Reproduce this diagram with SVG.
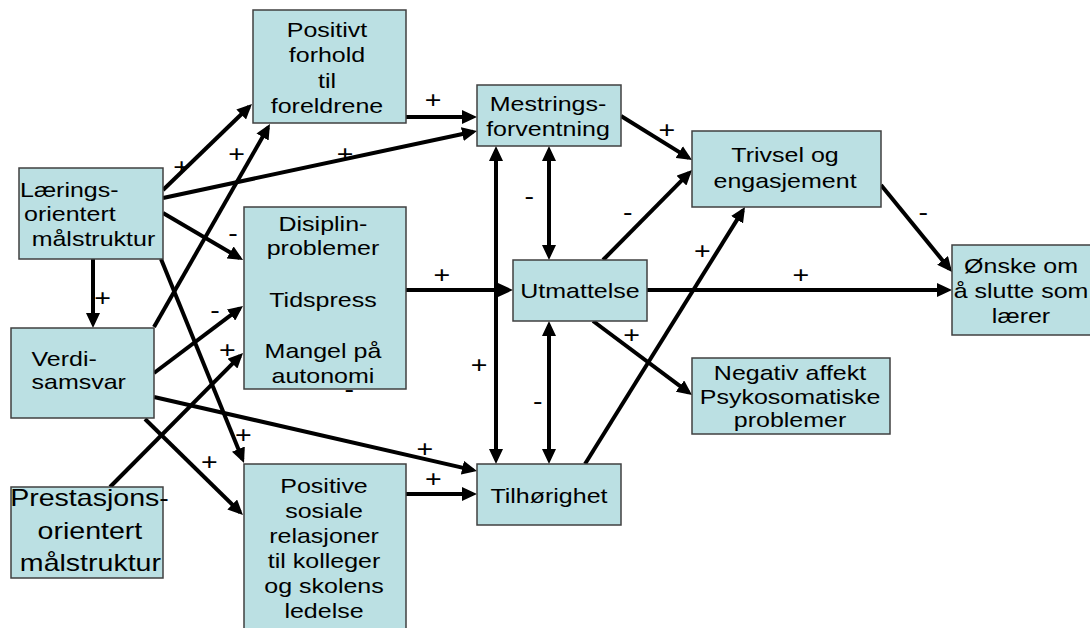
<svg xmlns="http://www.w3.org/2000/svg" width="1090" height="628" viewBox="0 0 1090 628">
<style>
.box{fill:#BBE0E3;stroke:#404040;stroke-width:1.5}
.t{font-family:"Liberation Sans",Arial,sans-serif;font-size:21px;fill:#000}
.m{text-anchor:middle}
.big{font-size:24px}
.lab{font-family:"Liberation Sans",Arial,sans-serif;font-size:24px;fill:#000;text-anchor:middle}
.c{stroke:#000;stroke-width:4;fill:none;marker-end:url(#ah)}
.d{stroke:#000;stroke-width:4;fill:none;marker-end:url(#ah);marker-start:url(#ah)}
</style>
<defs>
<marker id="ah" markerUnits="userSpaceOnUse" markerWidth="15" markerHeight="14" refX="11" refY="7" orient="auto-start-reverse">
<path d="M0,0 L15,7 L0,14 z" fill="#000"/>
</marker>
</defs>
<rect width="1090" height="628" fill="#fff"/>
<g id="connectors">
<line class="c" x1="163" y1="190" x2="249.1" y2="106.8"/>
<line class="c" x1="154" y1="327" x2="268" y2="127.5"/>
<line class="c" x1="163" y1="198" x2="473.1" y2="131.8"/>
<line class="c" x1="406" y1="117" x2="473" y2="117"/>
<line class="c" x1="163" y1="213" x2="239.6" y2="258"/>
<line class="c" x1="93" y1="259" x2="93" y2="324"/>
<line class="c" x1="161" y1="259" x2="242.5" y2="459.3"/>
<line class="c" x1="154" y1="373" x2="239.8" y2="308.4"/>
<line class="c" x1="110" y1="487" x2="240.2" y2="355.8"/>
<line class="c" x1="154" y1="397" x2="473.1" y2="470.1"/>
<line class="c" x1="145" y1="419" x2="240.1" y2="512.2"/>
<line class="c" x1="406" y1="494" x2="473" y2="494"/>
<line class="c" x1="406" y1="290" x2="509" y2="290"/>
<line class="d" x1="496" y1="150" x2="496" y2="460"/>
<line class="d" x1="549" y1="150" x2="549" y2="256"/>
<line class="d" x1="549" y1="325" x2="549" y2="460"/>
<line class="c" x1="621" y1="116" x2="688.6" y2="157.9"/>
<line class="c" x1="603" y1="260" x2="689.2" y2="172.8"/>
<line class="c" x1="585" y1="464" x2="742.9" y2="210.4"/>
<line class="c" x1="647" y1="290" x2="948" y2="290"/>
<line class="c" x1="881" y1="185" x2="949.5" y2="268.9"/>
<line class="c" x1="593" y1="321" x2="688.8" y2="392.6"/>
</g>
<g id="n-positivt">
<rect class="box" x="253" y="10" width="153" height="113"/>
<g class="t m" transform="scale(1.19 1)">
<text x="274.8" y="37">Positivt</text>
<text x="274.8" y="62.5">forhold</text>
<text x="274.8" y="88">til</text>
<text x="274.8" y="113">foreldrene</text>
</g>
</g>
<g id="n-laerings">
<rect class="box" x="19" y="168" width="144" height="91"/>
<g class="t" transform="scale(1.19 1)">
<text x="16.8" y="197">Lærings-</text>
<text x="20.2" y="221">orientert</text>
<text x="26.6" y="246">målstruktur</text>
</g>
</g>
<g id="n-disiplin">
<rect class="box" x="244" y="207" width="162" height="182"/>
<g class="t m" transform="scale(1.19 1)">
<text x="271.4" y="231">Disiplin-</text>
<text x="271.4" y="255">problemer</text>
<text x="271.4" y="307">Tidspress</text>
<text x="271.4" y="358">Mangel på</text>
<text x="271.4" y="383">autonomi</text>
</g>
</g>
<g id="n-verdi">
<rect class="box" x="11" y="328" width="143" height="90"/>
<g class="t" transform="scale(1.19 1)">
<text x="26.5" y="366">Verdi-</text>
<text x="26.5" y="389">samsvar</text>
</g>
</g>
<g id="n-prestasjons">
<rect class="box" x="11" y="487" width="152" height="91"/>
<g class="t m big" transform="scale(1.19 1)">
<text x="75.2" y="506">Prestasjons-</text>
<text x="75.6" y="539">orientert</text>
<text x="76" y="571">målstruktur</text>
</g>
</g>
<g id="n-positive-sosiale">
<rect class="box" x="244" y="464" width="162" height="180"/>
<g class="t m" transform="scale(1.19 1)">
<text x="272.3" y="493">Positive</text>
<text x="272.3" y="518">sosiale</text>
<text x="272.3" y="543">relasjoner</text>
<text x="272.3" y="568">til kolleger</text>
<text x="272.3" y="593">og skolens</text>
<text x="272.3" y="618">ledelse</text>
</g>
</g>
<g id="n-mestrings">
<rect class="box" x="477" y="85" width="144" height="61"/>
<g class="t m" transform="scale(1.19 1)">
<text x="460.5" y="111">Mestrings-</text>
<text x="460.5" y="136.5">forventning</text>
</g>
</g>
<g id="n-trivsel">
<rect class="box" x="692" y="131" width="189" height="76"/>
<g class="t m" transform="scale(1.19 1)">
<text x="659.7" y="162">Trivsel og</text>
<text x="659.7" y="188">engasjement</text>
</g>
</g>
<g id="n-utmattelse">
<rect class="box" x="513" y="260" width="134" height="61"/>
<g class="t m" transform="scale(1.19 1)">
<text x="487.4" y="298">Utmattelse</text>
</g>
</g>
<g id="n-negativ">
<rect class="box" x="692" y="358" width="198" height="76"/>
<g class="t m" transform="scale(1.19 1)">
<text x="663.9" y="380">Negativ affekt</text>
<text x="663.9" y="404">Psykosomatiske</text>
<text x="663.9" y="427.5">problemer</text>
</g>
</g>
<g id="n-tilhorighet">
<rect class="box" x="477" y="464" width="144" height="61"/>
<g class="t m" transform="scale(1.19 1)">
<text x="461.3" y="503">Tilhørighet</text>
</g>
</g>
<g id="n-onske">
<rect class="box" x="952" y="245" width="150" height="90"/>
<g class="t m" transform="scale(1.19 1)">
<text x="858" y="273">Ønske om</text>
<text x="858" y="298">å slutte som</text>
<text x="858" y="323">lærer</text>
</g>
</g>
<g id="labels" class="lab" transform="scale(1.19 1)">
<text x="152.7" y="175.1">+</text>
<text x="198.9" y="161.7">+</text>
<text x="289.9" y="162.4">+</text>
<text x="363.9" y="108.4">+</text>
<text x="195.8" y="241.5">-</text>
<text x="86.3" y="305.7">+</text>
<text x="204.5" y="443.4">+</text>
<text x="180.7" y="318.2">-</text>
<text x="191" y="357.7">+</text>
<text x="357.1" y="457.4">+</text>
<text x="175.9" y="470.1">+</text>
<text x="364.1" y="487.4">+</text>
<text x="371.2" y="283.4">+</text>
<text x="402.5" y="373.4">+</text>
<text x="444.8" y="203.8">-</text>
<text x="451.9" y="408.8">-</text>
<text x="560.3" y="138.4">+</text>
<text x="527.5" y="219.8">-</text>
<text x="590.2" y="259.1">+</text>
<text x="672.9" y="283.4">+</text>
<text x="775.9" y="219.8">-</text>
<text x="530.8" y="343.4">+</text>
<text x="293.5" y="397">-</text>
</g>
</svg>
